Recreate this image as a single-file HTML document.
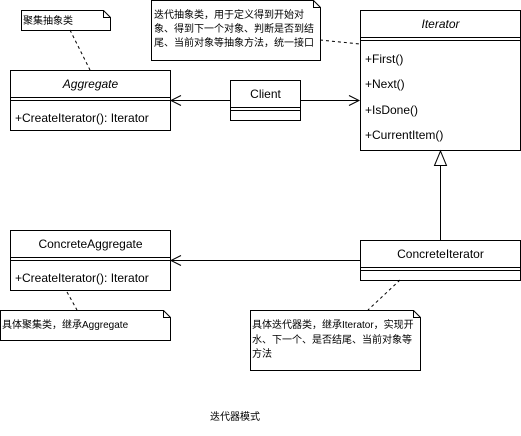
<!DOCTYPE html>
<html><head><meta charset="utf-8"><style>
body{margin:0;background:#fff}
text{font-family:"Liberation Sans","Noto Sans CJK SC",sans-serif;fill:#000}
</style></head><body>
<svg width="521" height="431" viewBox="0 0 521 431" xmlns="http://www.w3.org/2000/svg">
<g fill="#fff" stroke="#000" stroke-width="1">
<!-- note1 -->
<path d="M21.5 10.5H103.5L110.5 17.5V30.5H21.5Z"/><path d="M103.5 10.5V17.5H110.5" fill="none"/>
<!-- note2 -->
<path d="M151.5 0.5H313.5L320.5 7.5V60.5H151.5Z"/><path d="M313.5 0.5V7.5H320.5" fill="none"/>
<!-- Aggregate -->
<rect x="10.5" y="70.5" width="160" height="60"/>
<path d="M10.5 97.5H170.5M10.5 100.5H170.5" fill="none"/>
<!-- Iterator -->
<rect x="360.5" y="10.5" width="160" height="140"/>
<path d="M360.5 37.5H520.5M360.5 40.5H520.5" fill="none"/>
<!-- Client -->
<rect x="230.5" y="80.5" width="70" height="40"/>
<path d="M230.5 107.5H300.5M230.5 110.5H300.5" fill="none"/>
<!-- ConcreteAggregate -->
<rect x="10.5" y="70.5" width="160" height="60" transform="translate(0,160)"/>
<path d="M10.5 257.5H170.5M10.5 260.5H170.5" fill="none"/>
<!-- ConcreteIterator -->
<rect x="360.5" y="240.5" width="160" height="40"/>
<path d="M360.5 267.5H520.5M360.5 270.5H520.5" fill="none"/>
<!-- note3 -->
<path d="M0.5 150.5H163.5L170.5 157.5V180.5H0.5Z" transform="translate(0,160)"/><path d="M163.5 310.5V317.5H170.5" fill="none"/>
<!-- note4 -->
<path d="M250.5 310.5H413.5L420.5 317.5V370.5H250.5Z"/><path d="M413.5 310.5V317.5H420.5" fill="none"/>
<!-- connectors -->
<path d="M230 100.5H171M181 95.5L171 100.5L181 105.5" fill="none"/>
<path d="M300 100.5H359M349 95.5L359 100.5L349 105.5" fill="none"/>
<path d="M360 260.5H171M181 255.5L171 260.5L181 265.5" fill="none"/>
<path d="M440.5 240V165" fill="none"/>
<path d="M434.5 165.5L440.5 151L446.5 165.5Z"/>
<g stroke-dasharray="3,3" fill="none">
<path d="M70 30L90 70"/><path d="M320 40L360 44"/><path d="M67 292L77 310"/><path d="M400 280L368 310"/>
</g>
</g>
<text x="23" y="24" font-size="10">聚集抽象类</text>
<text x="154" y="18" font-size="10">迭代抽象类，用于定义得到开始对</text>
<text x="154" y="32" font-size="10">象、得到下一个对象、判断是否到结</text>
<text x="154" y="46" font-size="10">尾、当前对象等抽象方法，统一接口</text>
<text x="90.5" y="88" font-size="12" font-style="italic" text-anchor="middle">Aggregate</text>
<text x="15" y="122" font-size="12">+CreateIterator(): Iterator</text>
<text x="440.5" y="28" font-size="12" font-style="italic" text-anchor="middle">Iterator</text>
<text x="365" y="63" font-size="12">+First()</text>
<text x="365" y="88" font-size="12">+Next()</text>
<text x="365" y="114" font-size="12">+IsDone()</text>
<text x="365" y="139" font-size="12">+CurrentItem()</text>
<text x="265.5" y="98" font-size="12" text-anchor="middle">Client</text>
<text x="90.5" y="248" font-size="12" text-anchor="middle">ConcreteAggregate</text>
<text x="15" y="282" font-size="12">+CreateIterator(): Iterator</text>
<text x="440.5" y="258" font-size="12" text-anchor="middle">ConcreteIterator</text>
<text x="2" y="328" font-size="10">具体聚集类，继承Aggregate</text>
<text x="252" y="328" font-size="10">具体迭代器类，继承Iterator，实现开</text>
<text x="252" y="343" font-size="10">水、下一个、是否结尾、当前对象等</text>
<text x="252" y="357" font-size="10">方法</text>
<text x="210" y="420" font-size="10">迭代器模式</text>
</svg>
</body></html>
